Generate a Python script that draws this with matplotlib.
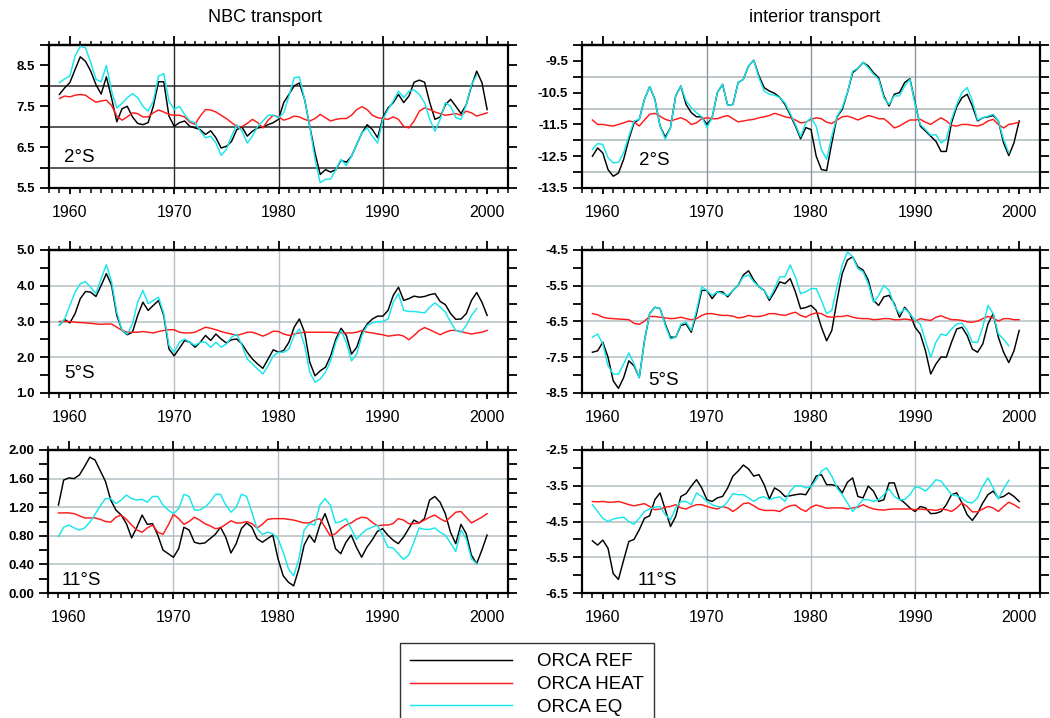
import numpy as np
import matplotlib
matplotlib.use("Agg")
import matplotlib.pyplot as plt
from matplotlib.ticker import MultipleLocator, FixedLocator

nan = float("nan")

# sampling years: 1959.0 .. 2000.0 every half year (83 samples)
years = np.arange(1959.0, 2000.01, 0.5)

# ---------------- NBC transport, 2S ----------------
nbc2_ref = [7.79, 7.95, 8.08, 8.40, 8.71, 8.60, 8.36, 8.03, 7.80, 8.22,
            7.70, 7.12, 7.44, 7.50, 7.24, 7.08, 7.05, 7.10, 7.50, 8.10,
            8.10, 7.26, 7.01, 7.10, 7.14, 7.01, 6.97, 6.93, 6.81, 6.90,
            6.73, 6.48, 6.52, 6.64, 6.93, 6.99, 6.77, 6.89, 6.97, 6.99,
            7.05, 7.10, 7.18, 7.59, 7.79, 8.00, 8.07, 7.67, 7.01, 6.36,
            5.83, 5.95, 5.89, 5.95, 6.18, 6.13, 6.28, 6.57, 6.85, 7.05,
            6.93, 6.73, 7.22, 7.46, 7.59, 7.79, 7.59, 7.75, 8.09, 8.14,
            8.09, 7.59, 7.18, 7.24, 7.54, 7.67, 7.50, 7.32, 7.54, 8.00,
            8.36, 8.08, 7.42]
nbc2_heat = [7.69, 7.75, 7.73, 7.77, 7.79, 7.77, 7.68, 7.60, 7.63, 7.65,
             7.52, 7.26, 7.16, 7.24, 7.34, 7.32, 7.24, 7.24, 7.34, 7.41,
             7.36, 7.30, 7.28, 7.28, 7.24, 7.11, 7.06, 7.26, 7.42, 7.41,
             7.36, 7.28, 7.20, 7.10, 7.01, 7.00, 7.08, 7.18, 7.10, 6.97,
             7.16, 7.28, 7.24, 7.16, 7.20, 7.26, 7.24, 7.18, 7.14, 7.20,
             7.30, 7.22, 7.14, 7.18, 7.20, 7.20, 7.28, 7.42, 7.49, 7.42,
             7.28, 7.22, 7.20, 7.18, 7.24, 7.18, 7.01, 6.97, 7.14, 7.38,
             7.46, 7.42, 7.36, 7.32, 7.28, 7.30, 7.32, 7.28, 7.38, 7.34,
             7.26, 7.30, 7.34]
nbc2_eq = [8.08, 8.17, 8.24, 8.73, 8.97, 8.93, 8.57, 8.16, 8.10, 8.50,
           7.87, 7.46, 7.57, 7.71, 7.81, 7.71, 7.50, 7.38, 7.63, 8.24,
           8.30, 7.63, 7.42, 7.50, 7.30, 7.14, 7.10, 6.89, 6.73, 6.77,
           6.60, 6.30, 6.44, 6.77, 7.05, 6.89, 6.60, 6.77, 7.01, 7.14,
           7.28, 7.28, 7.22, 7.34, 7.75, 8.20, 8.22, 7.67, 7.01, 6.20,
           5.63, 5.71, 5.72, 5.95, 6.20, 6.05, 6.28, 6.57, 6.85, 6.97,
           6.77, 6.60, 7.18, 7.42, 7.63, 7.87, 7.71, 7.87, 7.90, 7.79,
           7.59, 7.18, 6.89, 7.18, 7.59, 7.50, 7.22, 7.18, 7.54, 8.03,
           8.26, nan, nan]

# ---------------- interior transport, 2S ----------------
int2_ref = [-12.50, -12.24, -12.40, -12.92, -13.13, -13.03, -12.60, -11.97, -11.45, -11.34,
            -10.71, -10.31, -10.71, -11.55, -11.90, -11.60, -10.60, -10.29, -10.87, -11.13,
            -11.26, -11.26, -11.50, -11.29, -10.50, -10.24, -10.90, -10.87, -10.18, -10.08,
            -9.66, -9.48, -9.97, -10.34, -10.45, -10.52, -10.65, -10.87, -11.20, -11.55,
            -11.95, -11.60, -11.66, -12.50, -12.92, -12.95, -12.08, -11.26, -11.03, -10.50,
            -9.87, -9.74, -9.55, -9.66, -9.87, -10.03, -10.60, -10.92, -10.55, -10.50,
            -10.18, -10.06, -10.82, -11.55, -11.71, -11.87, -12.03, -12.35, -12.35, -11.45,
            -10.94, -10.66, -10.55, -10.92, -11.39, -11.29, -11.26, -11.22, -11.39, -12.08,
            -12.48, -12.08, -11.39]
int2_heat = [-11.36, -11.50, -11.50, -11.53, -11.55, -11.50, -11.45, -11.39, -11.42, -11.55,
             -11.36, -11.18, -11.15, -11.24, -11.34, -11.39, -11.34, -11.29, -11.36, -11.50,
             -11.45, -11.32, -11.29, -11.32, -11.32, -11.26, -11.22, -11.32, -11.42, -11.39,
             -11.36, -11.34, -11.29, -11.26, -11.22, -11.15, -11.20, -11.26, -11.29, -11.36,
             -11.45, -11.43, -11.34, -11.29, -11.32, -11.43, -11.47, -11.36, -11.26, -11.24,
             -11.29, -11.36, -11.29, -11.22, -11.26, -11.32, -11.32, -11.45, -11.61, -11.55,
             -11.45, -11.36, -11.36, -11.34, -11.43, -11.50, -11.39, -11.29, -11.39, -11.53,
             -11.55, -11.50, -11.50, -11.53, -11.55, -11.50, -11.39, -11.34, -11.50, -11.61,
             -11.50, -11.47, -11.43]
int2_eq = [-12.29, -12.10, -12.13, -12.55, -12.71, -12.69, -12.39, -11.87, -11.39, -11.34,
           -10.71, -10.31, -10.71, -11.55, -11.97, -11.60, -10.60, -10.29, -10.76, -10.97,
           -11.13, -11.26, -11.60, -11.29, -10.50, -10.24, -10.90, -10.87, -10.18, -10.08,
           -9.66, -9.48, -10.03, -10.45, -10.55, -10.58, -10.66, -10.82, -11.15, -11.50,
           -11.89, -11.45, -11.29, -11.55, -12.29, -12.60, -11.87, -11.24, -10.97, -10.50,
           -9.82, -9.74, -9.55, -9.71, -9.92, -10.08, -10.66, -10.87, -10.60, -10.60,
           -10.29, -10.08, -10.87, -11.50, -11.66, -11.84, -11.82, -12.08, -11.97, -11.34,
           -10.87, -10.50, -10.34, -10.76, -11.36, -11.29, -11.24, -11.18, -11.39, -11.97,
           -12.39, nan, nan]

# ---------------- NBC transport, 5S ----------------
nbc5_ref = [2.90, 3.06, 2.96, 3.22, 3.64, 3.84, 3.82, 3.70, 4.01, 4.34,
            4.01, 3.17, 2.75, 2.63, 2.70, 3.17, 3.54, 3.31, 3.45, 3.59,
            3.17, 2.23, 2.04, 2.25, 2.47, 2.42, 2.28, 2.42, 2.61, 2.47,
            2.65, 2.51, 2.40, 2.49, 2.51, 2.37, 2.14, 1.95, 1.81, 1.69,
            1.95, 2.21, 2.14, 2.19, 2.42, 2.84, 3.07, 2.70, 1.86, 1.48,
            1.62, 1.72, 2.04, 2.51, 2.81, 2.61, 2.09, 2.28, 2.70, 2.93,
            3.07, 3.15, 3.15, 3.31, 3.73, 3.96, 3.59, 3.64, 3.71, 3.68,
            3.70, 3.75, 3.78, 3.56, 3.47, 3.22, 3.06, 3.07, 3.22, 3.59,
            3.81, 3.54, 3.17]
nbc5_heat = [3.00, 3.00, 3.00, 2.98, 2.97, 2.96, 2.95, 2.93, 2.92, 2.93,
             2.93, 2.84, 2.75, 2.70, 2.70, 2.70, 2.72, 2.70, 2.68, 2.72,
             2.75, 2.77, 2.77, 2.70, 2.68, 2.68, 2.70, 2.77, 2.84, 2.81,
             2.77, 2.72, 2.68, 2.65, 2.61, 2.65, 2.70, 2.70, 2.65, 2.59,
             2.65, 2.73, 2.72, 2.65, 2.61, 2.65, 2.68, 2.70, 2.70, 2.70,
             2.70, 2.70, 2.70, 2.68, 2.68, 2.68, 2.68, 2.70, 2.75, 2.70,
             2.68, 2.65, 2.63, 2.59, 2.61, 2.63, 2.59, 2.49, 2.61, 2.75,
             2.83, 2.77, 2.70, 2.63, 2.70, 2.75, 2.75, 2.72, 2.68, 2.65,
             2.68, 2.70, 2.75]
nbc5_eq = [2.90, 3.07, 3.45, 3.82, 4.06, 4.11, 3.96, 3.78, 4.20, 4.59,
           4.11, 3.26, 2.75, 2.65, 2.93, 3.54, 3.87, 3.50, 3.59, 3.68,
           3.22, 2.33, 2.14, 2.42, 2.51, 2.42, 2.33, 2.42, 2.42, 2.28,
           2.42, 2.28, 2.37, 2.56, 2.65, 2.33, 1.95, 1.81, 1.67, 1.53,
           1.76, 2.04, 2.14, 2.14, 2.23, 2.61, 2.79, 2.33, 1.58, 1.30,
           1.39, 1.58, 1.90, 2.42, 2.75, 2.42, 1.90, 2.09, 2.61, 2.89,
           2.96, 3.00, 3.00, 3.07, 3.54, 3.78, 3.31, 3.28, 3.28, 3.26,
           3.24, 3.40, 3.52, 3.40, 3.26, 2.98, 2.75, 2.70, 2.89, 3.17,
           3.36, nan, nan]

# ---------------- interior transport, 5S ----------------
int5_ref = [-7.36, -7.32, -7.08, -7.50, -8.16, -8.37, -8.07, -7.60, -7.74, -8.07,
            -7.04, -6.28, -6.10, -6.14, -6.57, -6.94, -6.94, -6.61, -6.57, -6.80,
            -6.28, -5.63, -5.63, -5.86, -5.67, -5.67, -5.81, -5.63, -5.49, -5.20,
            -5.08, -5.34, -5.53, -5.63, -5.91, -5.67, -5.39, -5.44, -5.30, -5.67,
            -6.14, -6.11, -6.05, -6.19, -6.66, -7.04, -6.75, -5.91, -5.16, -4.78,
            -4.69, -4.97, -5.06, -5.34, -5.91, -6.05, -5.81, -5.77, -6.00, -6.38,
            -6.10, -6.28, -6.66, -6.85, -7.32, -7.97, -7.69, -7.49, -7.50, -7.08,
            -6.71, -6.66, -6.89, -7.27, -7.36, -7.13, -6.57, -6.28, -6.94, -7.36,
            -7.65, -7.32, -6.75]
int5_heat = [-6.28, -6.31, -6.38, -6.41, -6.42, -6.43, -6.44, -6.45, -6.55, -6.58,
             -6.49, -6.36, -6.36, -6.38, -6.40, -6.42, -6.41, -6.38, -6.42, -6.45,
             -6.42, -6.33, -6.28, -6.28, -6.31, -6.33, -6.33, -6.35, -6.40, -6.38,
             -6.33, -6.36, -6.36, -6.33, -6.28, -6.28, -6.31, -6.33, -6.28, -6.24,
             -6.33, -6.38, -6.30, -6.26, -6.28, -6.36, -6.38, -6.36, -6.36, -6.33,
             -6.38, -6.41, -6.42, -6.42, -6.45, -6.44, -6.42, -6.42, -6.45, -6.45,
             -6.43, -6.45, -6.49, -6.42, -6.45, -6.47, -6.38, -6.34, -6.40, -6.45,
             -6.45, -6.47, -6.51, -6.52, -6.49, -6.42, -6.36, -6.40, -6.49, -6.42,
             -6.42, -6.45, -6.45]
int5_eq = [-6.94, -6.85, -7.13, -7.74, -7.97, -7.97, -7.69, -7.38, -7.69, -8.07,
           -7.04, -6.28, -6.10, -6.14, -6.61, -6.99, -6.94, -6.57, -6.52, -6.75,
           -6.19, -5.53, -5.63, -5.77, -5.67, -5.72, -5.77, -5.63, -5.49, -5.25,
           -5.20, -5.39, -5.53, -5.63, -5.86, -5.58, -5.25, -5.25, -4.92, -5.25,
           -5.72, -5.67, -5.58, -5.58, -5.91, -6.28, -6.19, -5.53, -4.92, -4.55,
           -4.69, -5.02, -5.11, -5.44, -5.96, -5.77, -5.49, -5.63, -6.05, -6.28,
           -6.14, -6.28, -6.47, -6.57, -7.04, -7.50, -7.08, -6.85, -6.89, -6.71,
           -6.57, -6.55, -6.75, -7.08, -7.08, -6.66, -6.05, -6.28, -6.85, -6.99,
           -7.18, nan, nan]

# ---------------- NBC transport, 11S ----------------
nbc11_ref = [1.23, 1.58, 1.61, 1.60, 1.65, 1.77, 1.90, 1.86, 1.71, 1.56,
             1.30, 1.16, 1.09, 0.97, 0.77, 0.92, 1.09, 0.96, 0.97, 0.81,
             0.60, 0.55, 0.50, 0.62, 0.92, 0.88, 0.71, 0.69, 0.70, 0.76,
             0.82, 0.92, 0.78, 0.56, 0.69, 0.90, 0.98, 0.92, 0.76, 0.71,
             0.76, 0.81, 0.48, 0.24, 0.15, 0.10, 0.34, 0.67, 0.81, 0.71,
             0.95, 1.11, 0.90, 0.62, 0.55, 0.71, 0.81, 0.64, 0.50, 0.64,
             0.74, 0.86, 0.90, 0.81, 0.74, 0.69, 0.78, 0.90, 1.02, 0.98,
             1.04, 1.30, 1.35, 1.27, 1.11, 0.85, 0.69, 0.96, 0.83, 0.53,
             0.41, 0.60, 0.81]
nbc11_heat = [1.12, 1.12, 1.12, 1.11, 1.08, 1.05, 1.05, 1.05, 1.03, 1.00,
              0.99, 1.06, 1.09, 1.03, 0.95, 0.88, 0.85, 0.91, 0.95, 0.85,
              0.82, 0.95, 1.10, 1.04, 0.96, 1.00, 1.06, 1.02, 0.97, 0.94,
              0.90, 0.91, 0.96, 1.01, 0.98, 0.98, 1.00, 0.97, 0.91, 0.96,
              1.03, 1.04, 1.04, 1.04, 1.03, 1.02, 1.00, 0.98, 0.98, 1.02,
              1.04, 0.92, 0.80, 0.83, 0.90, 0.95, 0.98, 1.03, 1.06, 1.05,
              0.99, 0.94, 0.95, 0.95, 0.97, 1.04, 1.02, 0.97, 0.97, 0.98,
              1.02, 1.06, 1.09, 1.04, 1.00, 1.06, 1.13, 1.14, 1.06, 0.98,
              1.02, 1.06, 1.11]
nbc11_eq = [0.79, 0.92, 0.95, 0.91, 0.88, 0.91, 0.99, 1.10, 1.22, 1.32,
            1.32, 1.25, 1.30, 1.37, 1.32, 1.30, 1.31, 1.27, 1.35, 1.35,
            1.23, 1.16, 1.11, 1.18, 1.38, 1.35, 1.16, 1.16, 1.20, 1.27,
            1.38, 1.38, 1.23, 1.13, 1.20, 1.38, 1.35, 1.13, 0.90, 0.82,
            0.85, 0.83, 0.76, 0.57, 0.34, 0.24, 0.48, 0.88, 0.97, 0.95,
            1.23, 1.32, 1.23, 0.98, 1.00, 1.04, 0.90, 0.75, 0.83, 0.89,
            0.92, 0.95, 0.81, 0.64, 0.63, 0.55, 0.47, 0.53, 0.71, 0.91,
            0.89, 0.89, 0.91, 0.85, 0.81, 0.70, 0.58, 0.88, 0.76, 0.48,
            0.41, nan, nan]

# ---------------- interior transport, 11S ----------------
int11_ref = [-5.04, -5.16, -5.02, -5.25, -5.96, -6.12, -5.58, -5.06, -5.00, -4.73,
             -4.41, -4.34, -3.89, -3.70, -4.17, -4.64, -4.36, -3.80, -3.72, -3.51,
             -3.33, -3.56, -3.89, -3.94, -3.84, -3.80, -3.56, -3.23, -3.09, -2.92,
             -3.03, -3.23, -3.19, -3.47, -3.87, -3.56, -3.65, -3.80, -3.78, -3.75,
             -3.73, -3.75, -3.51, -3.23, -3.19, -3.47, -3.47, -3.51, -3.70, -3.40,
             -3.28, -3.80, -3.84, -3.51, -3.65, -3.94, -3.89, -3.42, -3.42, -3.87,
             -3.98, -4.12, -4.22, -4.08, -4.12, -4.28, -4.27, -4.22, -4.03, -3.75,
             -3.70, -3.98, -4.31, -4.47, -4.27, -3.98, -3.75, -3.65, -3.84, -3.80,
             -3.70, -3.80, -3.94]
int11_heat = [-3.94, -3.95, -3.94, -3.96, -3.96, -3.94, -3.98, -4.03, -4.06, -4.03,
              -4.00, -4.08, -4.17, -4.15, -4.10, -4.08, -4.03, -4.12, -4.15, -4.08,
              -4.03, -4.03, -4.08, -4.12, -4.15, -4.08, -4.12, -4.22, -4.12, -4.00,
              -3.98, -4.06, -4.15, -4.19, -4.19, -4.19, -4.22, -4.12, -4.06, -4.04,
              -4.15, -4.22, -4.10, -4.04, -4.08, -4.13, -4.12, -4.12, -4.12, -4.15,
              -4.12, -4.10, -4.03, -4.10, -4.15, -4.17, -4.18, -4.16, -4.15, -4.15,
              -4.15, -4.15, -4.17, -4.15, -4.17, -4.17, -4.19, -4.15, -4.17, -4.22,
              -4.12, -3.98, -4.08, -4.23, -4.23, -4.15, -4.08, -4.12, -4.22, -4.08,
              -3.96, -4.03, -4.12]
int11_eq = [-4.03, -4.22, -4.41, -4.50, -4.43, -4.40, -4.38, -4.50, -4.58, -4.41,
            -4.22, -4.15, -4.10, -4.08, -4.31, -4.45, -4.12, -3.94, -3.94, -4.03,
            -3.70, -3.80, -3.94, -4.03, -4.08, -4.10, -3.94, -3.72, -3.75, -3.75,
            -3.84, -3.94, -3.84, -3.81, -3.89, -3.84, -3.81, -3.94, -3.65, -3.50,
            -3.50, -3.56, -3.53, -3.33, -3.09, -3.00, -3.23, -3.56, -3.75, -3.98,
            -4.22, -4.06, -3.89, -3.89, -3.94, -3.89, -3.75, -3.59, -3.80, -3.89,
            -3.89, -3.75, -3.53, -3.56, -3.65, -3.51, -3.33, -3.37, -3.56, -3.75,
            -3.78, -3.84, -3.96, -3.98, -3.84, -3.51, -3.28, -3.56, -3.87, -3.59,
            -3.35, nan, nan]

# ---------------- labels / ticks ----------------
column_titles = ["NBC transport", "interior transport"]
series_names = ["ORCA REF", "ORCA HEAT", "ORCA EQ"]
series_colors = ["#000000", "#ff1a1a", "#18e6ec"]
xtick_years = [1960, 1970, 1980, 1990, 2000]
xgrid_years = [1970, 1980, 1990]

tl_yticks = [5.5, 6.5, 7.5, 8.5]
tr_yticks = [-13.5, -12.5, -11.5, -10.5, -9.5]
ml_yticks = [1.0, 2.0, 3.0, 4.0, 5.0]
mr_yticks = [-8.5, -7.5, -6.5, -5.5, -4.5]
bl_yticks = [0.0, 0.4, 0.8, 1.2, 1.6, 2.0]
br_yticks = [-6.5, -5.5, -4.5, -3.5, -2.5]

plt.rcParams["font.family"] = ["Liberation Sans", "DejaVu Sans"]

fig = plt.figure(figsize=(10.5, 7.18), dpi=100)
W, H = 1050.0, 718.0


def make_ax(x0, x1, ytop, ybot):
    return fig.add_axes([x0 / W, 1 - ybot / H, (x1 - x0) / W, (ybot - ytop) / H])


panels = [
    dict(box=(49, 508, 45, 188), data=(nbc2_ref, nbc2_heat, nbc2_eq), ylim=(5.5, 9.0),
         yticks=tl_yticks, ystep=0.5, fmt="%.1f", hgrid=[6.0, 7.0, 8.0],
         gcol="#2a2a2a", vcol="#2a2a2a", label="2°S", lpos=(0.033, 0.215)),
    dict(box=(582, 1040, 45, 188), data=(int2_ref, int2_heat, int2_eq), ylim=(-13.5, -9.0),
         yticks=tr_yticks, ystep=0.5, fmt="%.1f", hgrid=[-13.0, -12.0, -11.0, -10.0],
         gcol="#a9b7b9", vcol="#8a9aa2", label="2°S", lpos=(0.125, 0.195)),
    dict(box=(49, 508, 250, 393), data=(nbc5_ref, nbc5_heat, nbc5_eq), ylim=(1.0, 5.0),
         yticks=ml_yticks, ystep=0.5, fmt="%.1f", hgrid=[2.0, 3.0, 4.0],
         gcol="#b4c0c2", vcol="#b4c0c2", label="5°S", lpos=(0.033, 0.135)),
    dict(box=(582, 1040, 250, 393), data=(int5_ref, int5_heat, int5_eq), ylim=(-8.5, -4.5),
         yticks=mr_yticks, ystep=0.5, fmt="%.1f", hgrid=[-7.5, -6.5, -5.5],
         gcol="#b4c0c2", vcol="#b4c0c2", label="5°S", lpos=(0.145, 0.085)),
    dict(box=(48, 508, 450, 593), data=(nbc11_ref, nbc11_heat, nbc11_eq), ylim=(0.0, 2.0),
         yticks=bl_yticks, ystep=0.2, fmt="%.2f", hgrid=[0.4, 0.8, 1.2, 1.6],
         gcol="#b4c0c2", vcol="#b4c0c2", label="11°S", lpos=(0.030, 0.09)),
    dict(box=(582, 1040, 450, 593), data=(int11_ref, int11_heat, int11_eq), ylim=(-6.5, -2.5),
         yticks=br_yticks, ystep=0.5, fmt="%.1f", hgrid=[-5.5, -4.5, -3.5],
         gcol="#b4c0c2", vcol="#b4c0c2", label="11°S", lpos=(0.122, 0.09)),
]

handles = None
for p in panels:
    ax = make_ax(*p["box"])
    ax.set_xlim(1958.0, 2002.0)
    ax.set_ylim(*p["ylim"])
    for g in p["hgrid"]:
        ax.axhline(g, color=p["gcol"], lw=1.1, zorder=1)
    for g in xgrid_years:
        ax.axvline(g, color=p["vcol"], lw=1.0, zorder=1)
    lines = []
    for vals, name, col in zip(p["data"], series_names, series_colors):
        ln, = ax.plot(years, np.array(vals, dtype=float), color=col, lw=1.05,
                      label=name, zorder=3, solid_joinstyle="round")
        lines.append(ln)
    if handles is None:
        handles = lines
    for s in ax.spines.values():
        s.set_linewidth(1.6)
    # x ticks
    ax.xaxis.set_major_locator(FixedLocator(xtick_years))
    ax.xaxis.set_minor_locator(MultipleLocator(1))
    ax.set_xticklabels([str(y) for y in xtick_years], fontsize=11.5)
    ax.tick_params(axis="x", which="major", direction="out", length=4.5, width=1.3,
                   pad=7.5, top=False)
    ax.tick_params(axis="x", which="minor", direction="out", length=3.5, width=1.1,
                   top=False)
    top = ax.secondary_xaxis("top")
    top.xaxis.set_major_locator(FixedLocator(xtick_years))
    top.xaxis.set_minor_locator(MultipleLocator(1))
    top.tick_params(axis="x", which="major", direction="out", length=6.5, width=1.3,
                    labeltop=False)
    top.tick_params(axis="x", which="minor", direction="out", length=3, width=1.1)
    top.spines["top"].set_linewidth(1.6)
    # y ticks
    ax.yaxis.set_major_locator(FixedLocator(p["yticks"]))
    ax.yaxis.set_minor_locator(MultipleLocator(p["ystep"]))
    ax.set_yticklabels([p["fmt"] % v for v in p["yticks"]], fontsize=9.5,
                       fontweight="bold")
    ax.tick_params(axis="y", which="both", direction="out", length=6.5, width=1.3,
                   pad=3.5, right=True)
    ax.text(p["lpos"][0], p["lpos"][1], p["label"], transform=ax.transAxes,
            fontsize=13.5, ha="left", va="center", zorder=4)

fig.text(265 / W, 1 - 18 / H, column_titles[0], ha="center", va="center", fontsize=13)
fig.text(815 / W, 1 - 18 / H, column_titles[1], ha="center", va="center", fontsize=13)

leg = fig.legend(handles=handles, labels=series_names, loc="upper left",
                 bbox_to_anchor=(400 / W, 1 - 643 / H), fontsize=13.5,
                 frameon=True, fancybox=False, handlelength=5.4, handletextpad=1.35,
                 labelspacing=0.3, borderpad=0.55, borderaxespad=0.0)
leg.get_frame().set_edgecolor("black")
leg.get_frame().set_linewidth(1.0)

fig.savefig("out.png", dpi=100)
